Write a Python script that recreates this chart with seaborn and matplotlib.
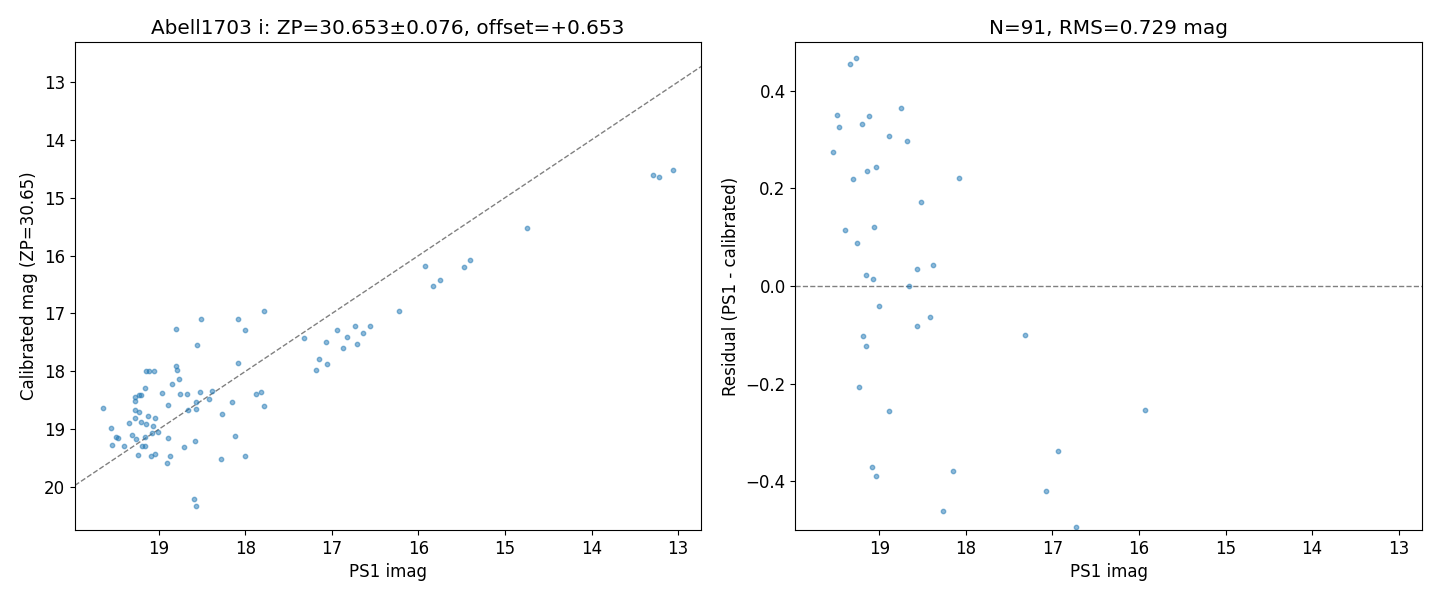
import matplotlib
matplotlib.use("Agg")
import matplotlib.pyplot as plt
import seaborn as sns
import numpy as np
import pandas as pd

# PS1 i-band magnitudes of matched stars
ps1_imag = [
    19.274, 19.343, 19.49, 19.47, 19.124, 19.205, 18.754, 18.89, 18.68, 19.54,
    19.04, 19.147, 19.31, 18.08, 18.52, 19.40, 19.066, 19.26, 18.57, 18.38,
    19.16, 19.077, 18.66, 19.008, 18.42, 18.57, 19.19, 19.16, 19.24, 18.89,
    19.09, 19.04, 18.15, 18.27, 17.32, 16.94, 17.07, 16.73, 15.925,
    19.644, 19.551, 19.274, 19.228, 19.274, 19.27, 19.228, 19.21, 19.158,
    19.15, 19.116, 19.054, 18.87, 18.904, 18.96, 18.846, 18.80, 18.79, 18.765,
    18.80, 18.71, 18.58, 18.59, 18.57, 18.557, 18.51, 18.28, 18.12, 18.08,
    18.01, 18.00, 17.875, 17.817, 17.78, 17.78, 17.18, 17.147, 17.055, 16.87,
    16.83, 16.71, 16.64, 16.56, 16.22, 15.83, 15.75, 15.47, 15.41, 14.75,
    13.286, 13.216, 13.054,
]
# Calibrated instrumental magnitudes (ZP = 30.65)
calib_mag = [
    18.807, 18.888, 19.140, 19.144, 18.776, 18.873, 18.390, 18.583, 18.383, 19.266,
    18.797, 18.912, 19.091, 17.859, 18.348, 19.286, 18.946, 19.172, 18.536, 18.338,
    19.138, 19.063, 18.660, 19.048, 18.484, 18.653, 19.293, 19.284, 19.448, 19.147,
    19.460, 19.430, 18.530, 18.732, 17.420, 17.278, 17.490, 17.224, 16.179,
    18.635, 18.986, 18.67, 18.71, 18.52, 18.44, 18.41, 18.41, 18.28,
    18.00, 18.00, 18.00, 19.47, 19.59, 18.38, 18.21, 17.91, 17.98, 18.14,
    17.26, 19.30, 19.21, 20.21, 20.33, 17.55, 17.09, 19.52, 19.11, 17.10,
    17.29, 19.47, 18.39, 18.36, 18.59, 16.965, 17.97, 17.78, 17.88, 17.59,
    17.41, 17.52, 17.34, 17.21, 16.965, 16.53, 16.43, 16.19, 16.07, 15.53,
    14.61, 14.64, 14.52,
]

title_left = "Abell1703 i: ZP=30.653\u00b10.076, offset=+0.653"
title_right = "N=91, RMS=0.729 mag"

df = pd.DataFrame({"ps1": ps1_imag, "cal": calib_mag})
df["res"] = df["ps1"] - df["cal"]

plt.rcParams["font.size"] = 12

fig, (ax1, ax2) = plt.subplots(1, 2, figsize=(14.4, 6), dpi=100)
fig.subplots_adjust(left=0.052, right=0.9875, bottom=0.1167, top=0.93, wspace=0.15)

pt_color = "#1f77b4"
xlim = (19.97, 12.73)

sns.scatterplot(data=df, x="ps1", y="cal", ax=ax1, s=10, color=pt_color,
                alpha=0.5, edgecolor=pt_color, linewidth=1, zorder=2)
ax1.plot(xlim, xlim, ls="--", color="gray", lw=1, zorder=1)
ax1.set_xlim(*xlim)
ax1.set_ylim(20.74, 12.31)
ax1.set_xlabel("PS1 imag")
ax1.set_ylabel("Calibrated mag (ZP=30.65)")
ax1.set_title(title_left)

sns.scatterplot(data=df, x="ps1", y="res", ax=ax2, s=10, color=pt_color,
                alpha=0.5, edgecolor=pt_color, linewidth=1, zorder=2)
ax2.axhline(0, ls="--", color="gray", lw=1, zorder=1)
ax2.set_xlim(*xlim)
ax2.set_ylim(-0.5, 0.5)
ax2.set_xlabel("PS1 imag")
ax2.set_ylabel("Residual (PS1 - calibrated)")
ax2.set_title(title_right)

fig.savefig("out.png", dpi=100)
